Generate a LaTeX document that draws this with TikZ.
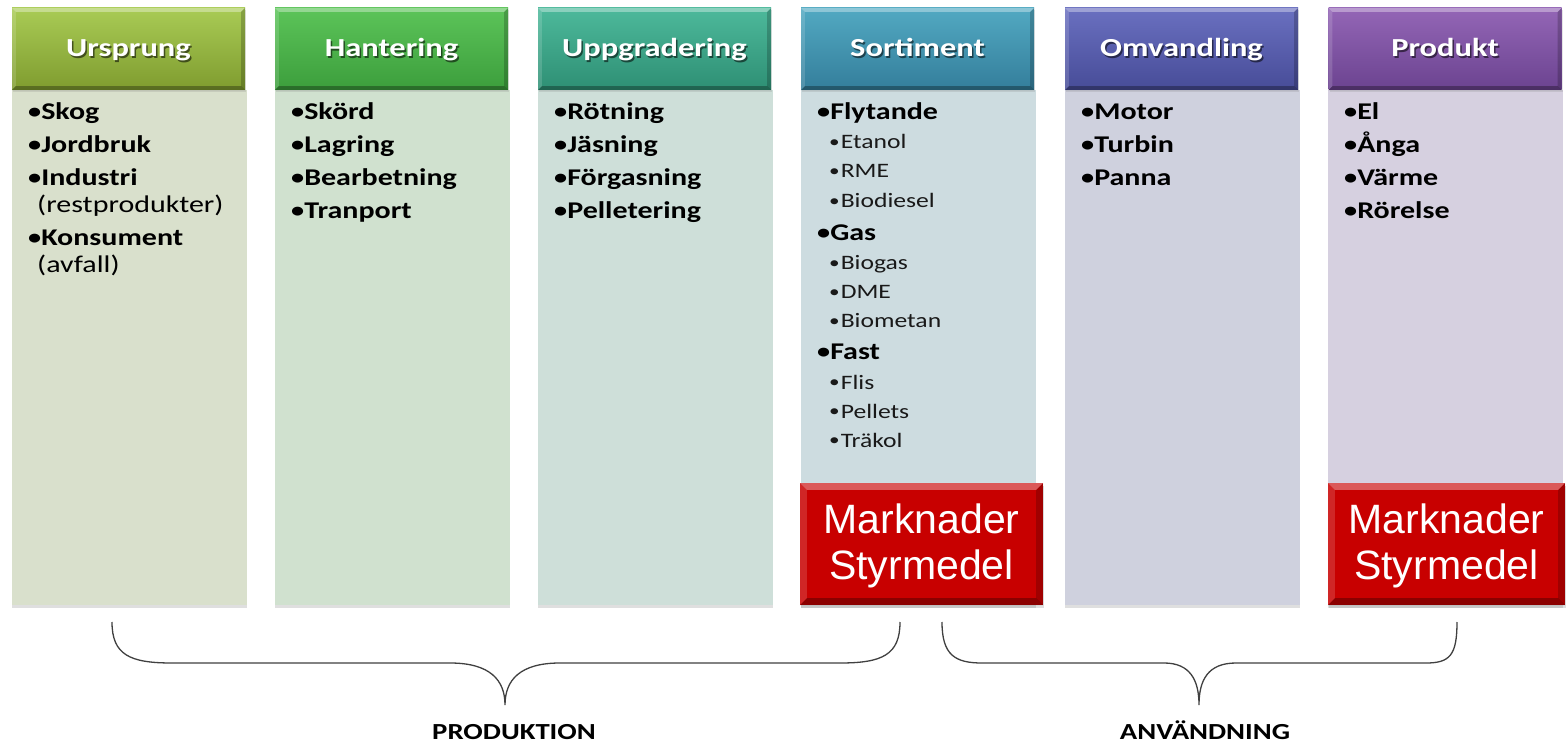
\documentclass[tikz,border=0pt]{standalone}
\usepackage{fontspec}
\setmainfont{Carlito}
\newfontfamily\calfont{Carlito}[FakeStretch=1.25]
\newfontfamily\arifont{Liberation Sans}
\usetikzlibrary{shadows,calc}
\definecolor{hAt}{HTML}{A9CB55}\definecolor{hAb}{HTML}{7F9C2F}
\definecolor{hBt}{HTML}{5CC459}\definecolor{hBb}{HTML}{3C9E3C}
\definecolor{hCt}{HTML}{4DB99B}\definecolor{hCb}{HTML}{2E8F74}
\definecolor{hDt}{HTML}{52A9C2}\definecolor{hDb}{HTML}{347E9B}
\definecolor{hEt}{HTML}{6A70C0}\definecolor{hEb}{HTML}{474C98}
\definecolor{hFt}{HTML}{9466B6}\definecolor{hFb}{HTML}{6B4390}
\definecolor{bA}{HTML}{D9E0CC}\definecolor{bB}{HTML}{D0E1CF}
\definecolor{bC}{HTML}{CEDFD9}\definecolor{bD}{HTML}{CDDCE0}
\definecolor{bE}{HTML}{CFD1DE}\definecolor{bF}{HTML}{D6D0E0}
\definecolor{redfill}{HTML}{C80000}
\definecolor{bracecol}{HTML}{404040}
\newcommand{\bevel}[2]{%
 \fill[white,opacity=0.35] (#1.north west) -- (#1.north east) -- ([shift={(-#2,#2)}]#1.north east) -- ([shift={(#2,#2)}]#1.north west) -- cycle;
 \fill[white,opacity=0.15] (#1.north west) -- ([shift={(#2,#2)}]#1.north west) -- ([shift={(#2,-#2)}]#1.south west) -- (#1.south west) -- cycle;
 \fill[black,opacity=0.2] (#1.north east) -- ([shift={(-#2,#2)}]#1.north east) -- ([shift={(-#2,-#2)}]#1.south east) -- (#1.south east) -- cycle;
 \fill[black,opacity=0.3] (#1.south west) -- ([shift={(#2,-#2)}]#1.south west) -- ([shift={(-#2,-#2)}]#1.south east) -- (#1.south east) -- cycle;
}
\newcommand{\bul}{\raisebox{1.2pt}{\fontsize{21}{21}\selectfont •}}
\newcommand{\sbul}{\raisebox{1.2pt}{\fontsize{17}{17}\selectfont •}\kern1pt}
\tikzset{
 body/.style={draw=none, minimum width=235pt, minimum height=515pt, inner sep=0pt,
   drop shadow={opacity=0.25, shadow xshift=0pt, shadow yshift=-3pt}},
 hdr/.style={draw=none, minimum width=233pt, minimum height=82pt, inner sep=0pt,
   drop shadow={opacity=0.2, shadow xshift=1pt, shadow yshift=-2pt}},
 htext/.style={anchor=base, text=white, inner sep=0pt, font=\calfont\bfseries\fontsize{26}{30}\selectfont},
 hshadow/.style={anchor=base, text=black, opacity=0.55, inner sep=0pt, font=\calfont\bfseries\fontsize{26}{30}\selectfont},
 item/.style={anchor=base west, inner sep=0pt, text=black, font=\calfont\bfseries\fontsize{24}{29}\selectfont},
 note/.style={anchor=base west, inner sep=0pt, text=black, font=\calfont\fontsize{24}{29}\selectfont},
 sub/.style={anchor=base west, inner sep=0pt, text=black!90, font=\calfont\fontsize{20.5}{25}\selectfont},
 redbox/.style={fill=redfill, minimum height=122pt, inner sep=0pt,
   drop shadow={opacity=0.25, shadow xshift=1pt, shadow yshift=-3pt}},
 redtext/.style={text=white, align=center, inner sep=0pt, font=\arifont\fontsize{41}{46}\selectfont},
 brace/.style={draw=bracecol, line width=1.3pt},
 lbl/.style={anchor=base, inner sep=0pt, text=black, font=\calfont\bfseries\fontsize{23}{27}\selectfont}
}
\begin{document}
\begin{tikzpicture}[x=1pt,y=-1pt]
\useasboundingbox[fill=white] (0,0) rectangle (1567,743);
% bodies
\node[body, fill=bA] (bodyA) at (129.5,347.5) {};
\node[body, fill=bB] (bodyB) at (392.5,347.5) {};
\node[body, fill=bC] (bodyC) at (655.5,347.5) {};
\node[body, fill=bD] (bodyD) at (918.5,347.5) {};
\node[body, fill=bE] (bodyE) at (1182.5,347.5) {};
\node[body, fill=bF] (bodyF) at (1445.5,347.5) {};
% headers
\node[hdr, top color=hAt, bottom color=hAb] (hA) at (128.5,49) {};
\node[hdr, top color=hBt, bottom color=hBb] (hB) at (391.5,49) {};
\node[hdr, top color=hCt, bottom color=hCb] (hC) at (654.5,49) {};
\node[hdr, top color=hDt, bottom color=hDb] (hD) at (917.5,49) {};
\node[hdr, top color=hEt, bottom color=hEb] (hE) at (1181.5,49) {};
\node[hdr, top color=hFt, bottom color=hFb] (hF) at (1445,49) {};
\bevel{hA}{4}\bevel{hB}{4}\bevel{hC}{4}\bevel{hD}{4}\bevel{hE}{4}\bevel{hF}{4}
\foreach \h/\t in {hA/Ursprung, hB/Hantering, hC/Uppgradering, hD/Sortiment, hE/Omvandling, hF/Produkt}{
  \node[hshadow] (\h s) at ([shift={(1.5,9.5)}]\h.center) {\t};
  \node[htext] (\h t) at ([shift={(0,8)}]\h.center) {\t};
}
% column A
\node[item] (a1) at (28,120) {\bul Skog};
\node[item] (a2) at (28,153) {\bul Jordbruk};
\node[item] (a3) at (28,186) {\bul Industri};
\node[note] (a3n) at (37,213) {(restprodukter)};
\node[item] (a4) at (28,246) {\bul Konsument};
\node[note] (a4n) at (37,273) {(avfall)};
% column B
\node[item] (bb1) at (291,120) {\bul Skörd};
\node[item] (bb2) at (291,153) {\bul Lagring};
\node[item] (bb3) at (291,186) {\bul Bearbetning};
\node[item] (bb4) at (291,219) {\bul Tranport};
% column C
\node[item] (c1) at (554,120) {\bul Rötning};
\node[item] (c2) at (554,153) {\bul Jäsning};
\node[item] (c3) at (554,186) {\bul Förgasning};
\node[item] (c4) at (554,219) {\bul Pelletering};
% column D
\node[item] (d1) at (817,120) {\bul Flytande};
\node[sub] (d1a) at (829,149) {\sbul Etanol};
\node[sub] (d1b) at (829,178) {\sbul RME};
\node[sub] (d1c) at (829,208) {\sbul Biodiesel};
\node[item] (d2) at (817,241) {\bul Gas};
\node[sub] (d2a) at (829,270) {\sbul Biogas};
\node[sub] (d2b) at (829,299) {\sbul DME};
\node[sub] (d2c) at (829,328) {\sbul Biometan};
\node[item] (d3) at (817,360) {\bul Fast};
\node[sub] (d3a) at (829,389) {\sbul Flis};
\node[sub] (d3b) at (829,418) {\sbul Pellets};
\node[sub] (d3c) at (829,447) {\sbul Träkol};
% column E
\node[item] (e1) at (1081,120) {\bul Motor};
\node[item] (e2) at (1081,153) {\bul Turbin};
\node[item] (e3) at (1081,186) {\bul Panna};
% column F
\node[item] (f1) at (1344,120) {\bul El};
\node[item] (f2) at (1344,153) {\bul Ånga};
\node[item] (f3) at (1344,186) {\bul Värme};
\node[item] (f4) at (1344,219) {\bul Rörelse};
% red boxes
\node[redbox, minimum width=243pt] (rA) at (921.5,544) {};
\node[redbox, minimum width=237pt] (rB) at (1446.5,544) {};
\bevel{rA}{7}\bevel{rB}{7}
\node[redtext] (rAt) at ([shift={(0,1.5)}]rA.center) {Marknader\\Styrmedel};
\node[redtext] (rBt) at ([shift={(0,1.5)}]rB.center) {Marknader\\Styrmedel};
% braces
\coordinate (pa) at (112,622);
\coordinate (ptip) at (505,705);
\coordinate (pb) at (900,622);
\coordinate (qa) at (942,622);
\coordinate (qtip) at (1199,705);
\coordinate (qb) at (1457,622);
\draw[brace] (pa) .. controls (112,655) and (130,663) .. (172,663) -- (450,663)
  .. controls (490,663) and (505,680) .. (ptip)
  .. controls (505,680) and (520,663) .. (560,663) -- (840,663)
  .. controls (882,663) and (900,655) .. (pb);
\draw[brace] (qa) .. controls (942,655) and (955,663) .. (982,663) -- (1164,663)
  .. controls (1190,663) and (1199,680) .. (qtip)
  .. controls (1199,680) and (1208,663) .. (1236,663) -- (1426,663)
  .. controls (1450,663) and (1457,655) .. (qb);
\node[lbl] (prod) at (514,739) {PRODUKTION};
\node[lbl] (anv) at (1205,739) {ANVÄNDNING};
\end{tikzpicture}
\end{document}
